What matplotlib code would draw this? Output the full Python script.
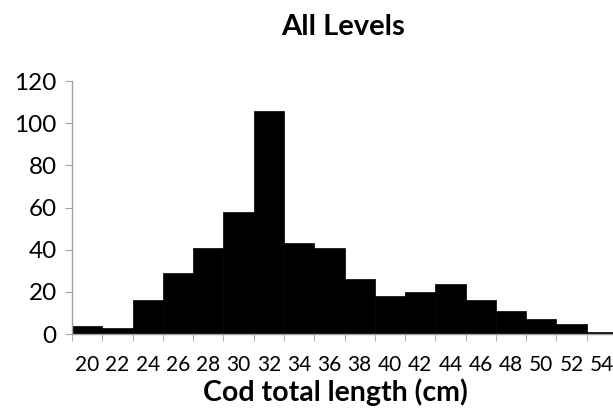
import numpy as np
import matplotlib
matplotlib.use('Agg')
from matplotlib import pyplot as plt

# length classes (cm) and counts
LENGTHS = [20, 22, 24, 26, 28, 30, 32, 34, 36, 38, 40, 42, 44, 46, 48, 50, 52, 54]
COUNTS = [4, 3, 16, 29, 41, 58, 106, 43, 41, 26, 18, 20, 24, 16, 11, 7, 5, 1]

plt.rcParams['font.family'] = ['Lato', 'DejaVu Sans']

fig = plt.figure(figsize=(6.13, 4.12), dpi=100)
ax = fig.add_axes([0.1175, 0.189, 0.889, 0.614])

POS = np.arange(len(LENGTHS))
ax.bar(POS, COUNTS, width=1.0, color='black', edgecolor='black', linewidth=0.5)

ax.set_xlim(-0.5, len(LENGTHS) - 0.5)
ax.set_ylim(0, 120)
ax.set_yticks(range(0, 121, 20))
ax.tick_params(axis='y', labelsize=17.5, length=5, color='#a0a0a0', pad=6)

# category labels centred, tick marks on bar edges
ax.set_xticks(POS)
ax.set_xticklabels([str(x) for x in LENGTHS], fontsize=15)
ax.tick_params(axis='x', which='major', length=0, pad=15)
ax.set_xticks(np.arange(len(LENGTHS) + 1) - 0.5, minor=True)
ax.tick_params(axis='x', which='minor', length=5, color='#a0a0a0', direction='out')

for s in ['top', 'right']:
    ax.spines[s].set_visible(False)
for s in ['left', 'bottom']:
    ax.spines[s].set_color('#a0a0a0')
    ax.spines[s].set_linewidth(1)

fig.text(0.547, 0.049, 'Cod total length (cm)', ha='center', va='center', fontsize=20.5, fontweight='bold')
fig.text(0.559, 0.934, 'All Levels', ha='center', va='center', fontsize=21, fontweight='bold')

plt.savefig('out.png', dpi=100)
